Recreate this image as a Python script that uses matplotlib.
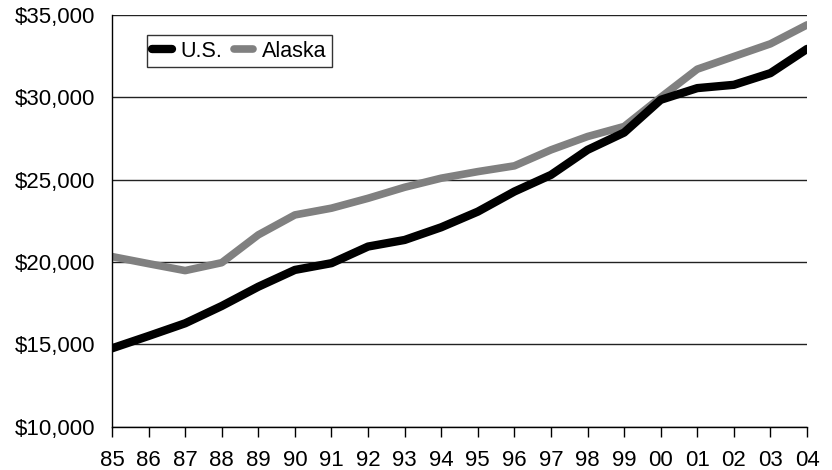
import matplotlib
matplotlib.use("Agg")
import matplotlib.pyplot as plt

years = ["85", "86", "87", "88", "89", "90", "91", "92", "93", "94",
         "95", "96", "97", "98", "99", "00", "01", "02", "03", "04"]
us = [14760, 15510, 16280, 17330, 18500, 19520, 19930, 20940, 21340, 22110,
      23060, 24280, 25290, 26810, 27860, 29850, 30560, 30760, 31470, 32940]
alaska = [20330, 19900, 19480, 19960, 21650, 22860, 23270, 23870, 24540, 25090,
          25490, 25840, 26810, 27620, 28230, 30000, 31710, 32480, 33250, 34400]
y_ticks = [10000, 15000, 20000, 25000, 30000, 35000]

plt.rcParams["font.family"] = ["Liberation Sans", "DejaVu Sans"]

fig = plt.figure(figsize=(8.32, 4.70), dpi=100)
ax = fig.add_axes([0.1346, 0.0921, 0.8354, 0.8760])

x = list(range(len(years)))
ln_ak, = ax.plot(x, alaska, color="#808080", lw=5.5, solid_capstyle="round",
                 solid_joinstyle="round", zorder=3, label="Alaska")
ln_us, = ax.plot(x, us, color="#000000", lw=6, solid_capstyle="round",
                 solid_joinstyle="round", zorder=4, label="U.S.")

ax.set_xlim(0, len(years) - 1)
ax.set_ylim(10000, 35000)
ax.set_xticks(x)
ax.set_xticklabels(years)
ax.set_yticks(y_ticks)
ax.set_yticklabels([f"${v:,}" for v in y_ticks])

ax.yaxis.grid(True, color="#222222", lw=1.0)
ax.set_axisbelow(True)
for side in ("top", "right"):
    ax.spines[side].set_visible(False)
for side in ("left", "bottom"):
    ax.spines[side].set_color("black")
    ax.spines[side].set_linewidth(1.0)
    ax.spines[side].set_zorder(5)

ax.tick_params(axis="x", direction="out", length=7.5, width=1.0,
               labelsize=16, pad=9, colors="black")
ax.tick_params(axis="y", length=0, labelsize=16, pad=12, colors="black")
for lbl in ax.get_xticklabels() + ax.get_yticklabels():
    lbl.set_clip_on(False)

leg = ax.legend(handles=[ln_us, ln_ak], loc="upper left",
                bbox_to_anchor=(0.0504, 0.951), ncol=2, fontsize=15.5,
                frameon=True, fancybox=False, edgecolor="black",
                handlelength=0.9, handletextpad=0.4, columnspacing=0.55,
                borderpad=0.25, borderaxespad=0.0)
leg.get_frame().set_linewidth(1.0)
leg.set_zorder(6)

fig.savefig("out.png", dpi=100, facecolor="white")
